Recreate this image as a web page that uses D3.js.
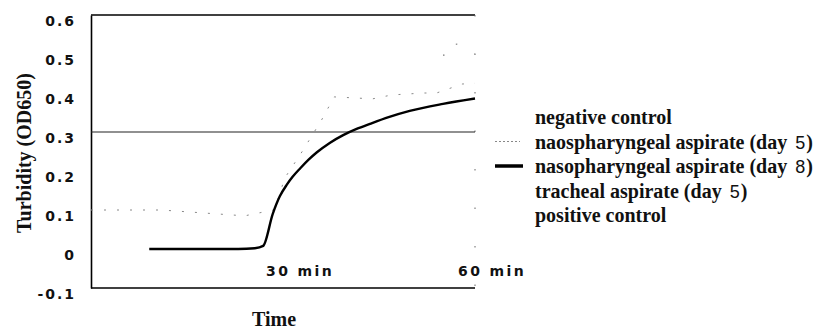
<!DOCTYPE html>
<html>
<head>
<meta charset="utf-8">
<script src="https://cdn.jsdelivr.net/npm/d3@7"></script>
<style>
  html, body { margin: 0; padding: 0; background: #fff; }
  svg { display: block; }
</style>
</head>
<body>
<div id="chart"></div>
<script>
// ---------- data ----------
const seriesNames = [
  "negative control",
  "naospharyngeal aspirate (day 5)",
  "nasopharyngeal aspirate (day 8)",
  "tracheal aspirate (day 5)",
  "positive control"
];
const yTicks = [-0.1, 0, 0.1, 0.2, 0.3, 0.4, 0.5, 0.6];
const yTickLabels = ["-0.1", "0", "0.1", "0.2", "0.3", "0.4", "0.5", "0.6"];
const xTicks = [30, 60];
const xTickLabels = ["30 min", "60 min"];

// negative control (flat line)
const negTimes = [0, 60];
const negValues = [0.3, 0.3];

// naospharyngeal aspirate (day 5) – faint dotted trace
const naso5Times  = [0, 6, 11, 24, 28.5, 29.5, 30.2, 33, 36, 38, 44, 47, 52, 54, 58, 60];
const naso5Values = [0.1, 0.1, 0.1, 0.085, 0.1, 0.14, 0.18, 0.25, 0.33, 0.39, 0.385, 0.395, 0.4, 0.4, 0.423, 0.425];

// nasopharyngeal aspirate (day 8) – thick black trace
const naso8Times  = [9.1, 23, 25.6, 26.9, 28.4, 29.5, 30.6, 31.5, 32.7, 34, 35.3, 37.3, 39.4, 41.5, 43.6, 46.5, 49.8, 55, 60];
const naso8Values = [0, 0, 0.002, 0.008, 0.09, 0.135, 0.165, 0.185, 0.207, 0.229, 0.248, 0.272, 0.292, 0.308, 0.321, 0.338, 0.354, 0.372, 0.386];

// tracheal aspirate (day 5) – faint dots
const trachTimes  = [55, 60];
const trachValues = [0.497, 0.5];

// positive control – faint dots
const posTimes  = [57, 60];
const posValues = [0.525, 0.53];

// ---------- drawing ----------
const W = 834, H = 329;
const svg = d3.select("#chart").append("svg")
  .attr("width", W).attr("height", H)
  .style("background", "#fff");

const x = d3.scaleLinear().domain([0, 60]).range([91, 475]);
const y = d3.scaleLinear().domain([-0.1, 0.6]).range([288, 15]);

const zip = (t, v) => t.map((d, i) => [d, v[i]]);
const line = d3.line().x(d => x(d[0])).y(d => y(d[1]));
const smooth = d3.line().x(d => x(d[0])).y(d => y(d[1])).curve(d3.curveMonotoneX);

const serif = "'Liberation Serif', 'Times New Roman', serif";
const sans = "'DejaVu Sans', sans-serif";

// frame
const frame = svg.append("g").attr("fill", "none");
frame.append("line").attr("x1", x(0)).attr("x2", x(60)).attr("y1", y(0.6)).attr("y2", y(0.6))
  .attr("stroke", "#000").attr("stroke-width", 1.6);
frame.append("line").attr("x1", x(0)).attr("x2", x(60)).attr("y1", y(-0.1)).attr("y2", y(-0.1))
  .attr("stroke", "#000").attr("stroke-width", 1.6);
frame.append("line").attr("x1", x(60)).attr("x2", x(60)).attr("y1", y(0.6)).attr("y2", y(-0.1))
  .attr("stroke", "#666").attr("stroke-width", 1).attr("stroke-dasharray", "1.5 37");

// y axis
const yAxis = d3.axisLeft(y)
  .tickValues(yTicks)
  .tickSize(0)
  .tickPadding(15)
  .tickFormat((d, i) => yTickLabels[i]);
const gy = svg.append("g").attr("transform", `translate(${x(0)},0)`).call(yAxis);
gy.select(".domain").attr("stroke", "#000").attr("stroke-width", 1.6);
gy.selectAll("text")
  .attr("dy", "0.75em")
  .style("font-family", sans)
  .style("font-weight", "bold")
  .style("font-size", "14px")
  .style("letter-spacing", "2px")
  .attr("fill", "#111");

// x tick labels (inside plot, just above the bottom line)
svg.append("g").selectAll("text").data(xTicks).join("text")
  .attr("x", d => x(d) - 17)
  .attr("y", 276)
  .attr("text-anchor", "start")
  .style("font-family", sans)
  .style("font-weight", "bold")
  .style("font-size", "14px")
  .style("letter-spacing", "2.4px")
  .attr("fill", "#111")
  .text((d, i) => xTickLabels[i]);

// series
const plot = svg.append("g").attr("fill", "none");
plot.append("path").datum(zip(negTimes, negValues)).attr("d", line)
  .attr("stroke", "#222").attr("stroke-width", 1.1);

plot.append("path").datum(zip(naso5Times, naso5Values)).attr("d", line)
  .attr("stroke", "#888").attr("stroke-width", 1).attr("stroke-dasharray", "2 11");

plot.append("path").datum(zip(trachTimes, trachValues)).attr("d", line)
  .attr("stroke", "#777").attr("stroke-width", 1.2).attr("stroke-dasharray", "1.5 30");

plot.append("path").datum(zip(posTimes, posValues)).attr("d", line)
  .attr("stroke", "#777").attr("stroke-width", 1.2).attr("stroke-dasharray", "1.5 30");

plot.append("path").datum(zip(naso8Times, naso8Values)).attr("d", smooth)
  .attr("stroke", "#000").attr("stroke-width", 2.4).attr("stroke-linejoin", "round");

// axis titles
svg.append("text")
  .attr("transform", `translate(31,153) rotate(-90)`)
  .attr("text-anchor", "middle")
  .attr("font-family", serif)
  .style("font-family", serif)
  .style("font-weight", "bold")
  .style("font-size", "20px")
  .attr("fill", "#111")
  .text("Turbidity (OD650)");

svg.append("text")
  .attr("x", 274).attr("y", 326)
  .attr("text-anchor", "middle")
  .style("font-family", serif)
  .style("font-weight", "bold")
  .style("font-size", "20px")
  .attr("fill", "#111")
  .text("Time");

// legend
const legend = svg.append("g").attr("transform", "translate(535,124)");
const rowH = 24.5;
const rows = legend.selectAll("g").data(seriesNames).join("g")
  .attr("transform", (d, i) => `translate(0,${i * rowH})`);
rows.each(function(name) {
  const t = d3.select(this).append("text")
    .attr("font-family", serif)
    .style("font-family", serif)
    .style("font-weight", "bold")
    .style("font-size", "20px")
    .attr("fill", "#111");
  const m = name.match(/^(.*\(day) (\d)\)$/);
  if (m) {
    t.append("tspan").text(m[1]);
    t.append("tspan").attr("dx", 8)
      .style("font-family", "'Liberation Sans', Arial, sans-serif")
      .style("font-weight", "normal")
      .style("font-size", "18px")
      .text(m[2]);
    t.append("tspan").attr("dx", 1).text(")");
  } else {
    t.text(name);
  }
});
// legend swatches (only those visible in the reference)
legend.append("line").attr("x1", -40).attr("x2", -15).attr("y1", 1 * rowH - 7).attr("y2", 1 * rowH - 7)
  .attr("stroke", "#888").attr("stroke-width", 1).attr("stroke-dasharray", "2 2");
legend.append("line").attr("x1", -40).attr("x2", -12).attr("y1", 2 * rowH - 7).attr("y2", 2 * rowH - 7)
  .attr("stroke", "#000").attr("stroke-width", 3.5);
</script>
</body>
</html>
